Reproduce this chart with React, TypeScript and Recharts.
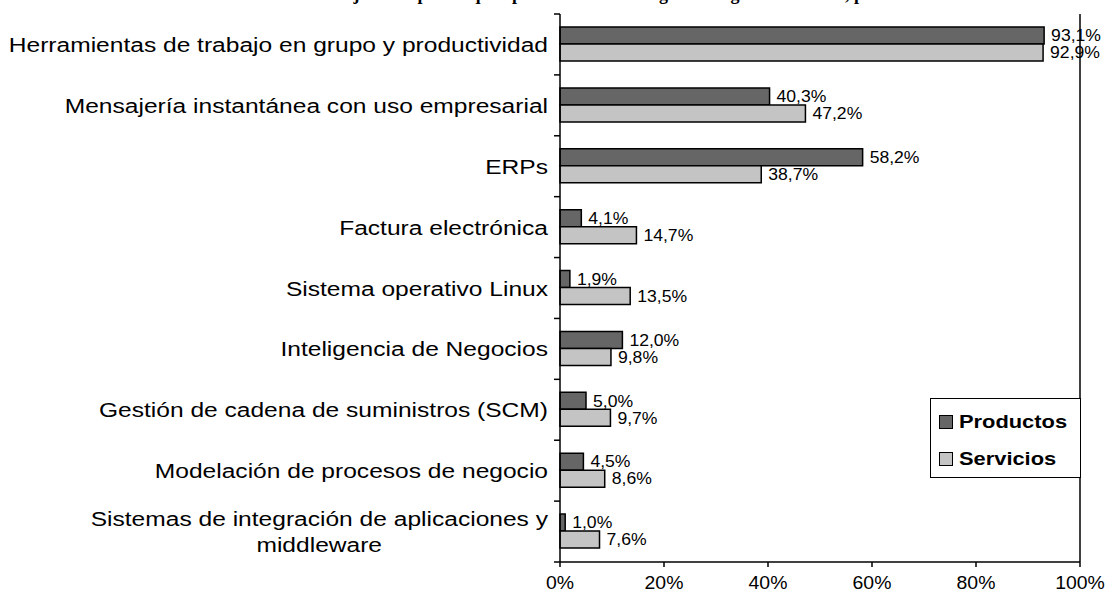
import { BarChart, Bar, XAxis, YAxis, LabelList, ReferenceLine } from "recharts";

// ── Datos ─────────────────────────────────────────────────────────────────────
const TITLE = "Porcentaje de empresas que aplican cada tecnología en su gestión interna, por sector";
const CATEGORIES = [
  "Herramientas de trabajo en grupo y productividad",
  "Mensajería instantánea con uso empresarial",
  "ERPs",
  "Factura electrónica",
  "Sistema operativo Linux",
  "Inteligencia de Negocios",
  "Gestión de cadena de suministros (SCM)",
  "Modelación de procesos de negocio",
  "Sistemas de integración de aplicaciones y middleware",
];
const PRODUCTOS = [93.1, 40.3, 58.2, 4.1, 1.9, 12.0, 5.0, 4.5, 1.0];
const SERVICIOS = [92.9, 47.2, 38.7, 14.7, 13.5, 9.8, 9.7, 8.6, 7.6];
const X_TICKS = [0, 20, 40, 60, 80, 100];
const SERIES = [
  { key: "productos", name: "Productos", color: "#666666" },
  { key: "servicios", name: "Servicios", color: "#c4c4c4" },
];

// ── Estilo ────────────────────────────────────────────────────────────────────
const FONT = "'Liberation Sans', Arial, sans-serif";
const W = 1106, H = 603;
const M = { top: 14, right: 26, bottom: 11, left: 0 };
const Y_W = 560;
const X_H = 30;
const BAND = (H - M.top - M.bottom - X_H) / CATEGORIES.length;
const CAT_SIZE = 21, CAT_SX = 1.17;
const VAL_SIZE = 16, VAL_SX = 1.1;
const TICK_SIZE = 18, TICK_SX = 1.08;

const rows = CATEGORIES.map((cat, i) => ({ cat, productos: PRODUCTOS[i], servicios: SERVICIOS[i] }));
const pct = (v: number) => `${v.toFixed(1).replace(".", ",")}%`;

let ctx: CanvasRenderingContext2D | null = null;
function measure(text: string, size: number) {
  if (!ctx) ctx = document.createElement("canvas").getContext("2d");
  if (!ctx) return text.length * size * 0.5;
  ctx.font = `${size}px ${FONT}`;
  return ctx.measureText(text).width;
}

function wrap(text: string, max = 50) {
  if (text.length <= max) return [text];
  const cut = text.lastIndexOf(" ", max);
  return [text.slice(0, cut), text.slice(cut + 1)];
}

// ── Componentes auxiliares ────────────────────────────────────────────────────
function CatTick(props: any) {
  const { x, y, payload, index, visibleTicksCount } = props;
  const lines = wrap(String(payload.value));
  const right = x - 12;
  const w0 = measure(lines[0], CAT_SIZE) * CAT_SX;
  const lh = 26;
  const y0 = y - ((lines.length - 1) * lh) / 2;
  return (
    <g>
      <line x1={x - 6} x2={x} y1={y - BAND / 2} y2={y - BAND / 2} stroke="#000" strokeWidth={1.5} />
      {index === visibleTicksCount - 1 && (
        <line x1={x - 6} x2={x} y1={y + BAND / 2} y2={y + BAND / 2} stroke="#000" strokeWidth={1.5} />
      )}
      {lines.map((ln, i) => (
        <text key={i} transform={`translate(${i === 0 ? right : right - w0 / 2},${y0 + i * lh}) scale(${CAT_SX},1)`}
          dy="0.36em" textAnchor={i === 0 ? "end" : "middle"} fontSize={CAT_SIZE} fontFamily={FONT} fill="#000">
          {ln}
        </text>
      ))}
    </g>
  );
}

function XTick(props: any) {
  const { x, y, payload } = props;
  return (
    <text transform={`translate(${x},${y}) scale(${TICK_SX},1)`} dy="0.71em" textAnchor="middle"
      fontSize={TICK_SIZE} fontFamily={FONT} fill="#000">
      {payload.value}%
    </text>
  );
}

function ValueLabel(props: any) {
  const { x, y, width, height, value } = props;
  return (
    <text transform={`translate(${x + width + 7},${y + height / 2}) scale(${VAL_SX},1)`} dy="0.36em"
      fontSize={VAL_SIZE} fontFamily={FONT} fill="#000">
      {pct(Number(value))}
    </text>
  );
}

function LegendBox() {
  return (
    <div style={{ position: "absolute", left: 930, top: 398, width: 151, height: 80, border: "1.5px solid #000", background: "#fff",
      padding: "12px 0 0 8px", boxSizing: "border-box" }}>
      {SERIES.map((d, i) => (
        <div key={i} style={{ display: "flex", alignItems: "center", gap: 6, marginTop: i ? 16 : 0, fontFamily: FONT, fontWeight: "bold", fontSize: 19, color: "#000", lineHeight: "21px" }}>
          <div style={{ width: 12, height: 12, background: d.color, border: "1.5px solid #000" }} />
          <span style={{ display: "inline-block", transform: "scaleX(1.15)", transformOrigin: "left" }}>{d.name}</span>
        </div>
      ))}
    </div>
  );
}

// ── Main ──────────────────────────────────────────────────────────────────────
export default function App() {
  return (
    <div style={{ position: "absolute", left: 0, top: 0, width: W, height: H, background: "#fff", overflow: "hidden" }}>
      <div style={{ position: "absolute", top: -17, left: 0, width: W, textAlign: "center", paddingLeft: 110, boxSizing: "border-box",
        fontFamily: "'Liberation Serif', 'Times New Roman', serif", fontWeight: "bold", fontSize: 18, lineHeight: "22px", whiteSpace: "nowrap" }}>
        {TITLE}
      </div>
      <BarChart width={W} height={H} data={rows} layout="vertical" margin={M} barGap={0} barSize={17}>
        <XAxis type="number" domain={[0, 100]} ticks={X_TICKS}
          height={X_H} stroke="#000" strokeWidth={1.5} tickSize={5} tickMargin={9} tick={<XTick />} />
        <XAxis xAxisId="top" type="number" domain={[0, 100]} orientation="top" height={0}
          tick={false} tickLine={false} stroke="#000" strokeWidth={1.5} />
        <YAxis type="category" dataKey="cat" width={Y_W} stroke="#000" strokeWidth={1.5}
          tickLine={false} tickSize={0} tickMargin={0} interval={0} tick={<CatTick />} />
        <ReferenceLine x={100} stroke="#000" strokeWidth={1.5} />
        {SERIES.map((s) => (
          <Bar key={s.key} dataKey={s.key} name={s.name} fill={s.color} stroke="#000" strokeWidth={1.5} isAnimationActive={false}>
            <LabelList dataKey={s.key} content={<ValueLabel />} />
          </Bar>
        ))}
      </BarChart>
      <LegendBox />
    </div>
  );
}
